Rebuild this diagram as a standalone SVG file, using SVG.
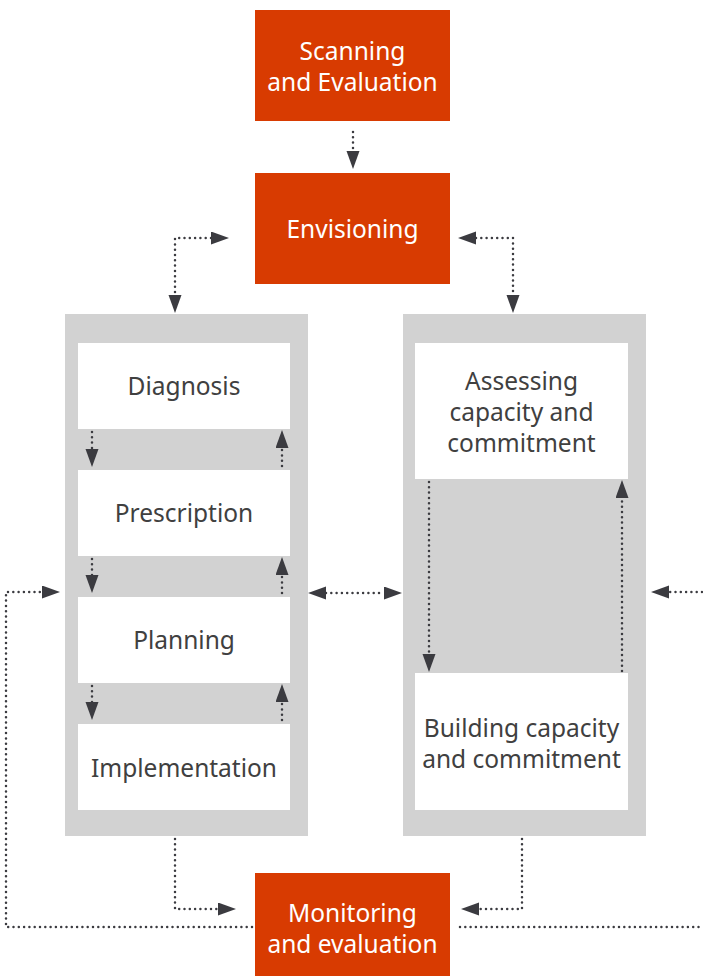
<svg xmlns="http://www.w3.org/2000/svg" width="703" height="976" viewBox="0 0 703 976">
  <style>
    .stage { fill: #D83B01; }
    .panel { fill: #D2D2D2; }
    .step { fill: #FFFFFF; }
    .t { font-family: "Noto Sans", "Open Sans", "Liberation Sans", sans-serif; font-size: 24.5px; text-anchor: middle; }
    .tw { fill: #FFFFFF; }
    .td { fill: #404040; }
    .link { fill: none; stroke: #3B3B40; stroke-width: 2.5; stroke-linecap: round; stroke-dasharray: 0 5.3; }
  </style>
  <defs>
    <marker id="arrow" markerUnits="userSpaceOnUse" markerWidth="19" markerHeight="14" refX="0" refY="6.5" orient="auto-start-reverse">
      <path d="M0,0 L18,6.5 L0,13 Z" fill="#3B3B40"/>
    </marker>
  </defs>

  <!-- containers -->
  <g id="panel-left">
    <rect class="panel" x="65" y="314" width="243" height="522"/>
  </g>
  <g id="panel-right">
    <rect class="panel" x="403" y="314" width="243" height="522"/>
  </g>

  <!-- top stages -->
  <g id="scanning">
    <rect class="stage" x="255" y="10" width="195" height="111"/>
    <text class="t tw" x="352.5" y="60">Scanning</text>
    <text class="t tw" x="352.5" y="91">and Evaluation</text>
  </g>
  <g id="envisioning">
    <rect class="stage" x="255" y="173" width="195" height="111"/>
    <text class="t tw" x="352.5" y="238">Envisioning</text>
  </g>

  <!-- left column steps -->
  <g id="diagnosis">
    <rect class="step" x="78" y="343" width="212" height="86"/>
    <text class="t td" x="184" y="395">Diagnosis</text>
  </g>
  <g id="prescription">
    <rect class="step" x="78" y="470" width="212" height="86"/>
    <text class="t td" x="184" y="522">Prescription</text>
  </g>
  <g id="planning">
    <rect class="step" x="78" y="597" width="212" height="86"/>
    <text class="t td" x="184" y="649">Planning</text>
  </g>
  <g id="implementation">
    <rect class="step" x="78" y="724" width="212" height="86"/>
    <text class="t td" x="184" y="777">Implementation</text>
  </g>

  <!-- right column steps -->
  <g id="assessing">
    <rect class="step" x="415" y="343" width="213" height="136"/>
    <text class="t td" x="521.5" y="390">Assessing</text>
    <text class="t td" x="521.5" y="421">capacity and</text>
    <text class="t td" x="521.5" y="452">commitment</text>
  </g>
  <g id="building">
    <rect class="step" x="415" y="673" width="213" height="137"/>
    <text class="t td" x="521.5" y="737">Building capacity</text>
    <text class="t td" x="521.5" y="768">and commitment</text>
  </g>

  <!-- bottom stage -->
  <g id="monitoring">
    <rect class="stage" x="255" y="873" width="195" height="103"/>
    <text class="t tw" x="352.5" y="922">Monitoring</text>
    <text class="t tw" x="352.5" y="953">and evaluation</text>
  </g>

  <!-- connectors -->
  <g id="connectors">
    <path class="link" d="M353,132 V151" marker-end="url(#arrow)"/>
    <path class="link" d="M211,238 H175 V295" marker-start="url(#arrow)" marker-end="url(#arrow)"/>
    <path class="link" d="M476,238 H513 V295" marker-start="url(#arrow)" marker-end="url(#arrow)"/>

    <path class="link" d="M92,432 V449" marker-end="url(#arrow)"/>
    <path class="link" d="M282,466 V448" marker-end="url(#arrow)"/>
    <path class="link" d="M92,559 V575" marker-end="url(#arrow)"/>
    <path class="link" d="M282,593 V575" marker-end="url(#arrow)"/>
    <path class="link" d="M92,686 V702" marker-end="url(#arrow)"/>
    <path class="link" d="M282,720 V702" marker-end="url(#arrow)"/>

    <path class="link" d="M326,593 H384" marker-start="url(#arrow)" marker-end="url(#arrow)"/>

    <path class="link" d="M429,482 V654" marker-end="url(#arrow)"/>
    <path class="link" d="M622,671 V498" marker-end="url(#arrow)"/>

    <path class="link" d="M702,592 H669" marker-end="url(#arrow)"/>

    <path class="link" d="M252,927 H6 V592 H42" marker-end="url(#arrow)"/>
    <path class="link" d="M460,927 H702"/>

    <path class="link" d="M175,839 V909 H218" marker-end="url(#arrow)"/>
    <path class="link" d="M522,839 V909 H479" marker-end="url(#arrow)"/>
  </g>
</svg>
